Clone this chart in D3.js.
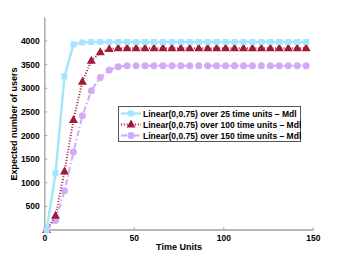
<!DOCTYPE html>
<html>
<head>
<meta charset="utf-8">
<script src="https://cdn.jsdelivr.net/npm/d3@7"></script>
<style>
  body { margin: 0; background: #fff; }
  svg text { font-family: "Liberation Sans", Arial, sans-serif; font-weight: bold; }
</style>
</head>
<body>
<div id="chart"></div>
<script>
const times = d3.range(1, 150, 5);
const flat = (v, n) => Array(n).fill(v);

const users25 = [0, 1200, 3250, 3930, 3970].concat(flat(3980, 25));
const users100 = [0, 300, 1240, 2330, 3140, 3580, 3760, 3830].concat(flat(3845, 22));
const users150 = [0, 200, 830, 1650, 2420, 2950, 3230, 3386, 3456].concat(flat(3477, 21));

const seriesNames = [
  "Linear(0,0.75) over 25 time units – Mdl",
  "Linear(0,0.75) over 100 time units – Mdl",
  "Linear(0,0.75) over 150 time units – Mdl"
];
const xTicks = [0, 50, 100, 150];
const yTicks = [500, 1000, 1500, 2000, 2500, 3000, 3500, 4000];

const width = 346, height = 260;

const svg = d3.select("#chart").append("svg")
  .attr("width", width)
  .attr("height", height);

const x = d3.scaleLinear().domain([0, 150]).range([44.8, 313.3]);
const y = d3.scaleLinear().domain([0, 4500]).range([230, 17.4]);

const series = [
  { name: seriesNames[0], values: users25, color: "#a6e6fc", dash: null, marker: "square" },
  { name: seriesNames[1], values: users100, color: "#a01a3c", dash: "1,1.8", marker: "triangle" },
  { name: seriesNames[2], values: users150, color: "#d2aaf8", dash: "6,2.5,1.5,2.5", marker: "circle" }
];

// axes
const axisColor = "#a0a0a0";
svg.append("line")
  .attr("x1", x(0)).attr("x2", x(150))
  .attr("y1", y(0)).attr("y2", y(0))
  .attr("stroke", axisColor).attr("stroke-width", 1.3);
svg.append("line")
  .attr("x1", x(0)).attr("x2", x(0))
  .attr("y1", y(0)).attr("y2", y(4500))
  .attr("stroke", axisColor).attr("stroke-width", 1.3);

svg.selectAll(".xt").data(xTicks).enter().append("line")
  .attr("x1", d => x(d)).attr("x2", d => x(d))
  .attr("y1", y(0)).attr("y2", y(0) - 2.5)
  .attr("stroke", axisColor);
svg.selectAll(".xl").data(xTicks).enter().append("text")
  .attr("x", d => x(d)).attr("y", y(0) + 11)
  .attr("text-anchor", "middle")
  .attr("font-size", 8.5)
  .text(d => d);

svg.selectAll(".yt").data(yTicks).enter().append("line")
  .attr("x1", x(0)).attr("x2", x(0) + 2.5)
  .attr("y1", d => y(d)).attr("y2", d => y(d))
  .attr("stroke", axisColor);
svg.selectAll(".yl").data(yTicks).enter().append("text")
  .attr("x", x(0) - 5).attr("y", d => y(d) + 3)
  .attr("text-anchor", "end")
  .attr("font-size", 8.5)
  .text(d => d);

svg.append("text")
  .attr("x", 179).attr("y", 250)
  .attr("text-anchor", "middle")
  .attr("font-size", 9)
  .text("Time Units");
svg.append("text")
  .attr("transform", "translate(16.5," + 124 + ") rotate(-90)")
  .attr("text-anchor", "middle")
  .attr("font-size", 9)
  .text("Expected number of users");

function drawMarker(g, type, cx, cy, color) {
  if (type === "square") {
    g.append("rect").attr("x", cx - 3).attr("y", cy - 3)
      .attr("width", 6).attr("height", 6).attr("fill", color);
  } else if (type === "triangle") {
    g.append("path")
      .attr("d", `M${cx},${cy - 5}L${cx + 4.5},${cy + 3}L${cx - 4.5},${cy + 3}Z`)
      .attr("fill", color);
  } else {
    g.append("circle").attr("cx", cx).attr("cy", cy).attr("r", 3.5).attr("fill", color);
  }
}

const line = d3.line().x((d, i) => x(times[i])).y(d => y(d));

// draw from back to front
series.slice().reverse().forEach(s => {
  const g = svg.append("g");
  g.append("path")
    .datum(s.values)
    .attr("d", line)
    .attr("fill", "none")
    .attr("stroke", s.color)
    .attr("stroke-width", s.marker === "square" ? 2.5 : 2)
    .attr("stroke-dasharray", s.dash);
  s.values.forEach((v, i) => drawMarker(g, s.marker, x(times[i]), y(v), s.color));
});

// legend
const lg = svg.append("g");
lg.append("rect")
  .attr("x", 118.5).attr("y", 106.5)
  .attr("width", 182).attr("height", 35)
  .attr("fill", "#fff").attr("stroke", "#555").attr("stroke-width", 1);
series.forEach((s, i) => {
  const cy = 113.5 + i * 11;
  lg.append("line")
    .attr("x1", 121).attr("x2", 141)
    .attr("y1", cy).attr("y2", cy)
    .attr("stroke", s.color)
    .attr("stroke-width", s.marker === "square" ? 2.5 : 2)
    .attr("stroke-dasharray", s.dash);
  drawMarker(lg, s.marker, 131, cy, s.color);
  lg.append("text")
    .attr("x", 143).attr("y", cy + 3)
    .attr("font-size", 8.5)
    .text(s.name);
});
</script>
</body>
</html>
